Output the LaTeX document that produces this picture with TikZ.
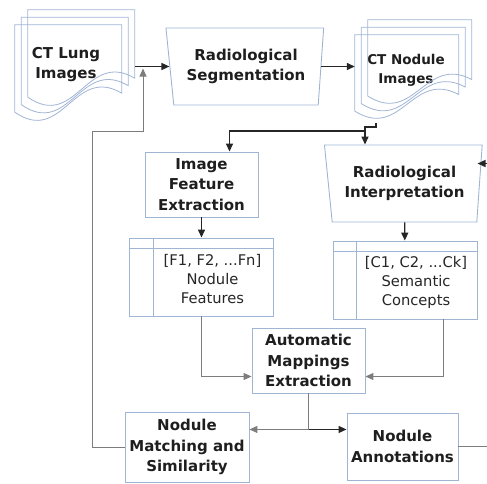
\documentclass[tikz,border=0pt]{standalone}
\usepackage{fontspec}
\setsansfont{DejaVu Sans}
\usepackage{tikz}
\usetikzlibrary{arrows.meta,shapes.geometric,calc}

\definecolor{boxblue}{RGB}{160,180,212}
\definecolor{flowgray}{RGB}{125,125,125}
\definecolor{textdark}{RGB}{30,30,30}

\tikzset{
  box/.style={draw=boxblue, line width=0.9pt, minimum width=113pt, minimum height=65pt,
    inner sep=1pt, align=center, text=textdark,
    font=\sffamily\bfseries\fontsize{15}{20.5}\selectfont},
  trap/.style={box, trapezium, shape border rotate=180, trapezium left angle=83,
    trapezium right angle=80, trapezium stretches=true,
    minimum width=158pt, minimum height=77pt},
  listbox/.style={draw=boxblue, line width=0.9pt, minimum width=144pt, minimum height=78pt},
  listtext/.style={align=center, text=black!85, font=\sffamily\fontsize{14.7}{19}\selectfont},
  stack/.style={inner sep=0pt},
  doctext/.style={align=center, text=textdark, font=\sffamily\bfseries\fontsize{15}{20}\selectfont},
  docline/.style={draw=boxblue, line width=0.8pt},
  flow/.style={draw=flowgray, line width=1pt},
  mainflow/.style={draw=black!85, line width=1.4pt},
  >={Triangle[length=8pt,width=7pt]}
}

% three pages with wavy bottoms, inside the node #1 (page width #2, page height #3)
\newcommand\docpages[3]{%
  \foreach \k in {0,1,2}{
    \draw[docline] ($(#1.north west)+(13-6.5*\k,7.5*\k)$) coordinate (pg)
      -- ++(#2,0) -- ++(0,0.72*#3)
      .. controls +(-0.45*#2,-0.3*#3) and +(0.45*#2,0.35*#3) .. ($(pg)+(0,0.92*#3)$) -- cycle;
  }}

\begin{document}
\begin{tikzpicture}[x=1pt,y=-1pt]
\useasboundingbox (0,0) rectangle (487,483);
\clip (0,0) rectangle (487,483);

% image stacks
\node[stack, minimum width=120pt, minimum height=110pt] (lung) at (75,65) {};
\node[doctext] (lungtext) at (66,65) {CT Lung\\Images};
\node[stack, minimum width=117pt, minimum height=98pt] (nodimg) at (413.5,69) {};
\node[doctext, font=\sffamily\bfseries\fontsize{13.5}{19}\selectfont] (nodimgtext) at (406,70) {CT Nodule\\Images};
\docpages{lung}{107}{95}
\docpages{nodimg}{104}{83}

% process boxes
\node[trap] (seg) at (246,66.5) {Radiological\\Segmentation};
\node[trap] (interp) at (404.5,183.5) {Radiological\\Interpretation};
\node[box] (feat) at (201.5,184.5) {Image\\Feature\\Extraction};
\node[box] (auto) at (308.5,360.5) {Automatic\\Mappings\\Extraction};
\node[box, minimum width=124pt, minimum height=70pt] (match) at (187,447) {Nodule\\Matching and\\Similarity};
\node[box, minimum width=111pt, minimum height=67pt] (annot) at (402.5,446.5) {Nodule\\Annotations};

% lists
\node[listbox] (featlist) at (201.5,277) {};
\node[listbox] (conlist) at (405,280) {};
\foreach \l in {featlist,conlist}{
  \draw[boxblue, line width=0.9pt] ([yshift=-11pt]\l.north west) -- ([yshift=-11pt]\l.north east);
  \draw[boxblue, line width=0.9pt] ([xshift=24pt]\l.north west) -- ([xshift=24pt]\l.south west);
}
\node[listtext] (feattext) at ($(featlist.center)+(11,2)$) {[F1, F2, ...Fn]\\Nodule\\Features};
\node[listtext] (context) at ($(conlist.center)+(11,2)$) {[C1, C2, ...Ck]\\Semantic\\Concepts};

\coordinate (tick) at (376,123);
\coordinate (split) at (365,127);
\coordinate (fork) at (365,131);
\coordinate (loopa) at (92,131);
\coordinate (loopb) at (143,131);
\coordinate (back) at (495,163.5);

\draw[mainflow,->] (seg.west -| lung.east) -- (seg.west);
\draw[mainflow,->] (seg.east) -- (seg.east -| nodimg.west);
\draw[mainflow] (tick) |- (split) -- (fork);
\draw[mainflow,->] (fork) -- (fork |- interp.north);
\draw[mainflow,->] (fork) -| ([xshift=28pt]feat.north);
\draw[mainflow,->] (feat) -- (featlist);
\draw[mainflow,->] (interp) -- (conlist);

\draw[flow,->] (featlist.south) |- ([yshift=-16pt]auto.west);
\draw[flow,->] ([xshift=38pt]conlist.south) |- ([yshift=-16pt]auto.east);
\draw[flow] (auto.south) -- ++(0,36) coordinate (junc);
\draw[flow,->] (junc) -- (junc -| match.east);
\draw[mainflow,->] (junc) -- (junc -| annot.west);
\draw[flow,->,shorten >=2pt] (match.west) -| (loopa) -- (loopb) -- (loopb |- seg.west);

% back to the interpretation, round the right edge
\draw[flow] (annot.east) -- (back |- annot.east) -- (back);
\draw[mainflow,->] (back) -- ($(interp.center)+(73,-20)$);
\end{tikzpicture}
\end{document}
